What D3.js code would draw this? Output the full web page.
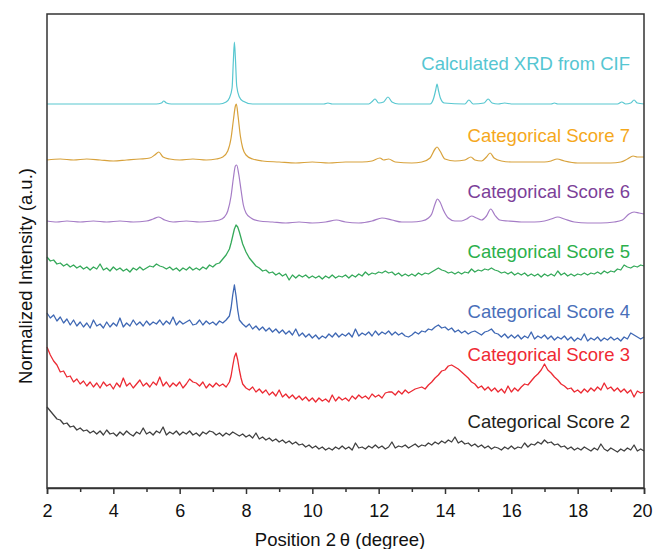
<!DOCTYPE html>
<html>
<head>
<meta charset="utf-8">
<script src="https://cdn.jsdelivr.net/npm/d3@7"></script>
<style>
  body { margin: 0; background: #fff; }
  svg { display: block; font-family: "Liberation Sans", Arial, sans-serif; }
</style>
</head>
<body>
<div class="xrd-plot"></div>
<script>
// XRD patterns, [2theta (deg), stacked intensity (a.u.)]
const calcCif = [[2,384],[5.3,384],[5.45,385],[5.52,387],[5.6,385],[5.75,384],[7.2,384],[7.4,386],[7.5,390],[7.58,400],[7.62,428],[7.65,446],[7.68,430],[7.72,402],[7.8,391],[7.9,387],[8.2,384],[10.35,384],[10.47,385],[10.6,384],[11.7,384],[11.82,387],[11.89,389],[12.0,385],[12.15,386],[12.28,391],[12.4,386],[12.6,384],[13.55,384],[13.66,390],[13.72,398],[13.76,404],[13.8,398],[13.86,390],[13.98,385],[14.6,384],[14.72,388],[14.85,384],[15.18,385],[15.3,389],[15.42,385],[15.6,384],[15.8,385],[16,384],[17.2,384],[17.3,385],[17.4,384],[19.2,384],[19.33,386],[19.45,384],[19.6,385],[19.7,388],[19.8,385],[20,384]];

const score7 = [[2,328],[2.4,329],[2.8,328],[3.2,329],[3.6,328],[4,327],[4.4,328],[4.8,329],[5.1,330],[5.25,333],[5.37,336],[5.5,331],[5.7,329],[6,328],[6.4,329],[6.8,328],[7.1,329],[7.3,331],[7.45,337],[7.55,350],[7.62,368],[7.68,382],[7.71,384],[7.76,372],[7.83,352],[7.9,340],[8,333],[8.2,329],[8.5,327],[9,326],[9.5,325],[10,326],[10.5,325],[11,326],[11.5,326],[11.8,327],[12.04,330],[12.15,328],[12.3,329],[12.5,326],[13,325],[13.3,326],[13.55,330],[13.7,339],[13.76,341],[13.85,337],[14,329],[14.3,327],[14.6,328],[14.78,331],[14.9,328],[15.1,327],[15.25,331],[15.36,335],[15.48,330],[15.7,327],[16,326],[16.5,326],[17,326],[17.2,327],[17.38,329],[17.6,327],[18,325],[18.5,325],[19,325],[19.3,326],[19.5,329],[19.67,332],[19.8,331],[20,331]];

const score6 = [[2,267],[2.3,266],[2.6,267],[3,266],[3.4,267],[3.8,266],[4.2,267],[4.6,266],[5,267],[5.2,269],[5.37,271],[5.55,268],[5.8,266],[6.2,267],[6.6,266],[7,267],[7.2,268],[7.35,271],[7.45,277],[7.55,292],[7.62,310],[7.68,322],[7.72,323],[7.78,314],[7.85,298],[7.92,283],[8,275],[8.15,270],[8.4,267],[8.8,266],[9.2,265],[9.6,266],[10,265],[10.4,266],[10.73,268],[11,266],[11.4,265],[11.8,267],[12.1,270],[12.4,268],[12.7,266],[13,266],[13.3,267],[13.5,270],[13.6,274],[13.7,284],[13.77,289],[13.85,286],[13.95,278],[14.1,270],[14.3,267],[14.5,267],[14.65,269],[14.8,272],[14.95,270],[15.1,268],[15.25,272],[15.38,279],[15.5,273],[15.65,268],[15.9,267],[16.3,266],[16.7,266],[17,267],[17.2,269],[17.4,271],[17.6,269],[17.9,266],[18.3,265],[18.7,265],[19.1,266],[19.35,268],[19.55,274],[19.7,276],[19.85,275],[20,274]];

const score5 = [[2,231],[2.1,227],[2.2,228],[2.3,224],[2.4,225],[2.5,222],[2.6,224],[2.7,221],[2.8,223],[2.9,220],[3,222],[3.1,219],[3.2,221],[3.3,218],[3.4,221],[3.5,219],[3.6,224],[3.7,218],[3.8,220],[3.9,217],[4,221],[4.1,218],[4.2,220],[4.3,217],[4.4,219],[4.5,216],[4.6,220],[4.7,218],[4.8,221],[4.9,218],[5,220],[5.1,222],[5.2,221],[5.3,224],[5.4,222],[5.5,221],[5.6,219],[5.7,221],[5.8,218],[5.9,220],[6,217],[6.1,220],[6.2,218],[6.3,221],[6.4,218],[6.5,220],[6.6,218],[6.7,221],[6.8,219],[6.9,223],[7,221],[7.1,224],[7.2,225],[7.3,229],[7.4,233],[7.5,239],[7.55,245],[7.6,252],[7.65,259],[7.7,263],[7.75,261],[7.8,256],[7.85,250],[7.9,244],[8,236],[8.1,230],[8.2,226],[8.3,222],[8.4,220],[8.5,217],[8.6,218],[8.7,215],[8.8,216],[8.9,213],[9,215],[9.1,212],[9.2,214],[9.3,208],[9.4,213],[9.5,210],[9.6,213],[9.7,211],[9.8,213],[9.9,210],[10,212],[10.1,210],[10.2,212],[10.3,209],[10.4,212],[10.5,210],[10.6,213],[10.7,210],[10.8,212],[10.9,211],[11,213],[11.1,210],[11.2,213],[11.3,211],[11.4,214],[11.5,212],[11.6,216],[11.7,213],[11.8,215],[11.9,214],[12,216],[12.1,215],[12.2,217],[12.3,215],[12.4,216],[12.5,213],[12.6,215],[12.7,212],[12.8,214],[12.9,212],[13,214],[13.1,212],[13.2,215],[13.3,213],[13.4,215],[13.5,214],[13.6,216],[13.7,218],[13.8,220],[13.9,218],[14,217],[14.1,215],[14.2,216],[14.3,214],[14.4,216],[14.5,214],[14.6,216],[14.7,215],[14.8,219],[14.9,216],[15,218],[15.1,217],[15.2,219],[15.3,218],[15.4,220],[15.5,218],[15.6,217],[15.7,215],[15.8,216],[15.9,214],[16,216],[16.1,213],[16.2,215],[16.3,213],[16.4,215],[16.5,212],[16.6,214],[16.7,212],[16.8,214],[16.9,211],[17,214],[17.1,212],[17.2,214],[17.3,212],[17.4,217],[17.5,213],[17.6,215],[17.7,212],[17.8,214],[17.9,212],[18,214],[18.1,213],[18.2,215],[18.3,213],[18.4,215],[18.5,214],[18.6,216],[18.7,214],[18.8,217],[18.9,215],[19,217],[19.1,216],[19.2,219],[19.3,218],[19.4,223],[19.5,221],[19.6,220],[19.7,222],[19.8,221],[19.9,223],[20,222]];

const score4 = [[2,175],[2.1,170],[2.2,173],[2.3,167],[2.4,171],[2.5,165],[2.6,169],[2.7,163],[2.8,168],[2.9,162],[3,166],[3.1,161],[3.2,165],[3.3,160],[3.4,168],[3.5,162],[3.6,164],[3.7,160],[3.8,166],[3.9,161],[4,165],[4.1,162],[4.2,170],[4.3,161],[4.4,165],[4.5,162],[4.6,168],[4.7,163],[4.8,166],[4.9,162],[5,167],[5.1,163],[5.2,166],[5.3,164],[5.4,168],[5.5,163],[5.6,167],[5.7,164],[5.8,171],[5.9,163],[6,167],[6.1,164],[6.2,166],[6.3,168],[6.4,163],[6.5,164],[6.6,168],[6.7,163],[6.8,167],[6.9,164],[7,166],[7.1,163],[7.2,167],[7.3,165],[7.4,168],[7.5,172],[7.55,180],[7.6,193],[7.65,203],[7.7,192],[7.75,178],[7.8,168],[7.9,164],[8,161],[8.1,164],[8.2,159],[8.3,162],[8.4,158],[8.5,161],[8.6,157],[8.7,160],[8.8,156],[8.9,159],[9,155],[9.1,158],[9.2,154],[9.3,157],[9.4,153],[9.5,159],[9.6,152],[9.7,155],[9.8,151],[9.9,154],[10,150],[10.1,153],[10.2,149],[10.3,152],[10.4,150],[10.5,154],[10.6,151],[10.7,155],[10.8,151],[10.9,154],[11,152],[11.1,155],[11.2,151],[11.3,159],[11.4,152],[11.5,155],[11.6,153],[11.7,156],[11.8,152],[11.9,157],[12,153],[12.1,156],[12.2,154],[12.3,157],[12.4,153],[12.5,156],[12.6,153],[12.7,155],[12.8,152],[12.9,151],[13,153],[13.1,156],[13.2,154],[13.3,157],[13.4,156],[13.5,159],[13.6,158],[13.7,161],[13.8,163],[13.9,160],[14,161],[14.1,158],[14.2,160],[14.3,156],[14.4,158],[14.5,155],[14.6,157],[14.7,154],[14.8,156],[14.9,157],[15,155],[15.1,153],[15.2,156],[15.3,157],[15.4,159],[15.5,155],[15.6,154],[15.7,151],[15.8,154],[15.9,150],[16,153],[16.1,150],[16.2,153],[16.3,149],[16.4,152],[16.5,150],[16.6,156],[16.7,149],[16.8,152],[16.9,150],[17,153],[17.1,149],[17.2,152],[17.3,148],[17.4,151],[17.5,149],[17.6,152],[17.7,148],[17.8,151],[17.9,147],[18,150],[18.1,148],[18.2,154],[18.3,147],[18.4,150],[18.5,148],[18.6,151],[18.7,147],[18.8,150],[18.9,148],[19,151],[19.1,148],[19.2,150],[19.3,147],[19.4,151],[19.5,149],[19.6,155],[19.7,153],[19.8,151],[19.9,149],[20,151]];

const score3 = [[2,141],[2.1,133],[2.2,127],[2.3,123],[2.4,116],[2.5,117],[2.6,111],[2.7,112],[2.8,106],[2.9,109],[3,104],[3.1,107],[3.2,102],[3.3,106],[3.4,101],[3.5,105],[3.6,100],[3.7,106],[3.8,102],[3.9,104],[4,99],[4.1,105],[4.2,101],[4.3,110],[4.4,102],[4.5,105],[4.6,100],[4.7,104],[4.8,108],[4.9,102],[5,105],[5.1,101],[5.2,106],[5.3,103],[5.4,111],[5.5,102],[5.6,106],[5.7,101],[5.8,105],[5.9,102],[6,106],[6.1,100],[6.2,104],[6.3,109],[6.4,106],[6.5,105],[6.6,102],[6.7,106],[6.8,100],[6.9,104],[7,101],[7.1,105],[7.2,102],[7.3,104],[7.4,101],[7.5,106],[7.55,112],[7.6,122],[7.65,131],[7.7,135],[7.75,128],[7.8,118],[7.85,110],[7.9,104],[8,100],[8.1,98],[8.2,101],[8.3,96],[8.4,99],[8.5,95],[8.6,98],[8.7,93],[8.8,96],[8.9,92],[9,98],[9.1,91],[9.2,94],[9.3,90],[9.4,93],[9.5,89],[9.6,92],[9.7,88],[9.8,91],[9.9,87],[10,90],[10.1,86],[10.2,90],[10.3,87],[10.4,89],[10.5,86],[10.6,93],[10.7,87],[10.8,91],[10.9,88],[11,90],[11.1,87],[11.2,92],[11.3,89],[11.4,93],[11.5,90],[11.6,92],[11.7,89],[11.8,94],[11.9,91],[12,93],[12.1,90],[12.2,95],[12.3,96],[12.4,96],[12.5,93],[12.6,97],[12.7,94],[12.8,98],[12.9,95],[13,97],[13.1,99],[13.2,100],[13.3,101],[13.4,99],[13.5,103],[13.6,106],[13.7,110],[13.8,113],[13.9,117],[14,118],[14.1,122],[14.2,123],[14.3,121],[14.4,119],[14.5,116],[14.6,113],[14.7,110],[14.8,106],[14.9,104],[15,100],[15.1,102],[15.2,98],[15.3,101],[15.4,97],[15.5,100],[15.6,96],[15.7,99],[15.8,95],[15.9,102],[16,96],[16.1,100],[16.2,97],[16.3,101],[16.4,104],[16.5,103],[16.6,107],[16.7,111],[16.8,114],[16.9,118],[17,124],[17.1,118],[17.2,115],[17.3,111],[17.4,108],[17.5,104],[17.6,102],[17.7,99],[17.8,100],[17.9,96],[18,98],[18.1,95],[18.2,99],[18.3,96],[18.4,100],[18.5,97],[18.6,101],[18.7,98],[18.8,105],[18.9,99],[19,101],[19.1,97],[19.2,100],[19.3,96],[19.4,99],[19.5,95],[19.6,98],[19.7,91],[19.8,97],[19.9,95],[20,96]];

const score2 = [[2,81],[2.1,77],[2.2,73],[2.3,69],[2.4,68],[2.5,64],[2.6,65],[2.7,61],[2.8,62],[2.9,58],[3,60],[3.1,57],[3.2,58],[3.3,55],[3.4,57],[3.5,54],[3.6,57],[3.7,53],[3.8,58],[3.9,54],[4,55],[4.1,52],[4.2,56],[4.3,53],[4.4,57],[4.5,54],[4.6,52],[4.7,56],[4.8,54],[4.9,60],[5,54],[5.1,56],[5.2,53],[5.3,57],[5.4,55],[5.5,61],[5.6,53],[5.7,56],[5.8,54],[5.9,57],[6,53],[6.1,56],[6.2,54],[6.3,57],[6.4,53],[6.5,55],[6.6,52],[6.7,56],[6.8,54],[6.9,57],[7,56],[7.1,53],[7.2,55],[7.3,52],[7.4,55],[7.5,53],[7.6,56],[7.7,54],[7.8,52],[7.9,54],[8,51],[8.1,53],[8.2,50],[8.3,55],[8.4,49],[8.5,51],[8.6,48],[8.7,50],[8.8,47],[8.9,49],[9,46],[9.1,48],[9.2,45],[9.3,47],[9.4,44],[9.5,46],[9.6,43],[9.7,44],[9.8,41],[9.9,43],[10,40],[10.1,42],[10.2,39],[10.3,41],[10.4,38],[10.5,40],[10.6,38],[10.7,41],[10.8,39],[10.9,42],[11,39],[11.1,41],[11.2,38],[11.3,45],[11.4,40],[11.5,41],[11.6,39],[11.7,42],[11.8,40],[11.9,43],[12,40],[12.1,42],[12.2,39],[12.3,41],[12.4,46],[12.5,40],[12.6,42],[12.7,41],[12.8,43],[12.9,40],[13,42],[13.1,44],[13.2,41],[13.3,43],[13.4,42],[13.5,45],[13.6,43],[13.7,46],[13.8,44],[13.9,47],[14,45],[14.1,48],[14.2,46],[14.3,51],[14.4,45],[14.5,47],[14.6,44],[14.7,45],[14.8,42],[14.9,44],[15,41],[15.1,43],[15.2,40],[15.3,42],[15.4,39],[15.5,41],[15.6,40],[15.7,38],[15.8,41],[15.9,39],[16,42],[16.1,39],[16.2,41],[16.3,40],[16.4,45],[16.5,41],[16.6,44],[16.7,43],[16.8,46],[16.9,44],[17,48],[17.1,45],[17.2,46],[17.3,43],[17.4,44],[17.5,41],[17.6,42],[17.7,39],[17.8,41],[17.9,38],[18,40],[18.1,38],[18.2,41],[18.3,39],[18.4,37],[18.5,40],[18.6,38],[18.7,44],[18.8,39],[18.9,37],[19,40],[19.1,38],[19.2,36],[19.3,39],[19.4,37],[19.5,40],[19.6,38],[19.7,43],[19.8,37],[19.9,39],[20,37]];

const seriesNames = ["Calculated XRD from CIF", "Categorical Score 7", "Categorical Score 6",
  "Categorical Score 5", "Categorical Score 4", "Categorical Score 3", "Categorical Score 2"];
const seriesData = [calcCif, score7, score6, score5, score4, score3, score2];
const noisy = [false, false, false, true, true, true, true];
const xTicks = [2, 4, 6, 8, 10, 12, 14, 16, 18, 20];

// look
const lineColors = ["#58c7d0", "#d8a23c", "#a57cc6", "#35a95a", "#3f68b4", "#ec2a33", "#404040"];
const textColors = ["#55c6d2", "#f5a81c", "#7c3f99", "#2cb04c", "#4a6fb9", "#ef2a33", "#231f20"];
const labelY = [418, 346, 290, 230, 170, 127, 60]; // label baselines, in a.u.

const width = 653, height = 549;
const margin = {top: 14, right: 9, bottom: 61, left: 47};

const svg = d3.select('.xrd-plot')
  .append('svg')
  .attr('width', width)
  .attr('height', height);

const x = d3.scaleLinear().domain([2, 20]).range([margin.left, width - margin.right]);
const y = d3.scaleLinear().domain([0, 474]).range([height - margin.bottom, margin.top]);

const smoothLine = d3.line()
  .x(d => x(d[0]))
  .y(d => y(d[1]))
  .curve(d3.curveMonotoneX);
const rawLine = d3.line()
  .x(d => x(d[0]))
  .y(d => y(d[1]));

// traces
svg.append('g')
  .selectAll('path')
  .data(seriesData)
  .join('path')
  .attr('d', (d, i) => noisy[i] ? rawLine(d) : smoothLine(d))
  .attr('fill', 'none')
  .attr('stroke', (d, i) => lineColors[i])
  .attr('stroke-width', (d, i) => noisy[i] ? 1.3 : 1.2)
  .attr('stroke-linejoin', 'round');

// series labels
svg.append('g')
  .selectAll('text')
  .data(seriesNames)
  .join('text')
  .attr('x', 630)
  .attr('y', (d, i) => y(labelY[i]))
  .attr('text-anchor', 'end')
  .attr('font-size', '18.5px')
  .attr('fill', (d, i) => textColors[i])
  .text(d => d);

// frame
svg.append('rect')
  .attr('x', margin.left)
  .attr('y', margin.top)
  .attr('width', width - margin.left - margin.right)
  .attr('height', height - margin.top - margin.bottom)
  .attr('fill', 'none')
  .attr('stroke', '#333')
  .attr('stroke-width', 1.5);

// x axis with minor ticks
const xAxis = svg.append('g')
  .attr('transform', `translate(0,${height - margin.bottom})`);
xAxis.append('g')
  .call(d3.axisBottom(x).tickValues(d3.range(3, 20, 2)).tickSize(4).tickFormat(''))
  .call(g => g.select('.domain').remove());
xAxis.append('g')
  .call(d3.axisBottom(x).tickValues(xTicks).tickSize(6).tickPadding(10))
  .call(g => g.select('.domain').attr('stroke', '#333').attr('stroke-width', 1.5))
  .call(g => g.selectAll('text').attr('font-size', '18px').attr('fill', '#111')
    .attr('font-family', '"Liberation Sans", Arial, sans-serif')
    .attr('dx', d => d === 20 ? -2 : 0));
xAxis.selectAll('.tick line').attr('stroke', '#333').attr('stroke-width', 1.5);

// axis titles
svg.append('text')
  .attr('x', 340)
  .attr('y', 546)
  .attr('text-anchor', 'middle')
  .attr('font-size', '18.5px')
  .attr('fill', '#111')
  .text('Position 2\u2009\u03b8 (degree)');

svg.append('text')
  .attr('transform', 'translate(32,276) rotate(-90)')
  .attr('text-anchor', 'middle')
  .attr('font-size', '18.5px')
  .attr('fill', '#111')
  .text('Normalized Intensity (a.u.)');
</script>
</body>
</html>
